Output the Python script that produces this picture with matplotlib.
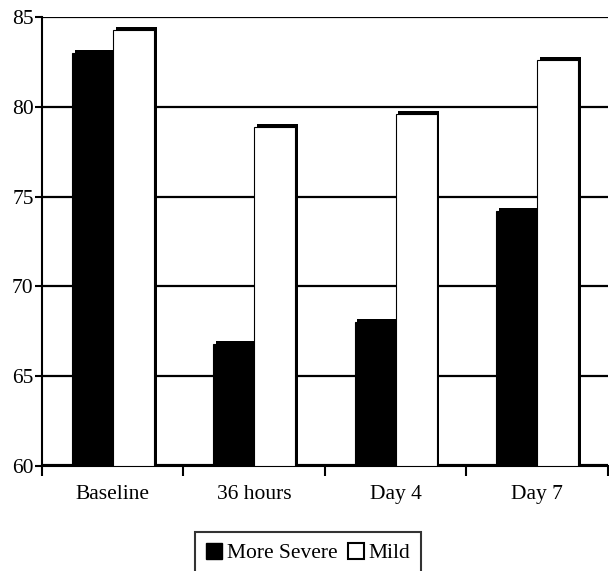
import matplotlib
matplotlib.use("Agg")
from matplotlib import pyplot as plt
from matplotlib.patches import Patch
import numpy as np

categories = ["Baseline", "36 hours", "Day 4", "Day 7"]
severe = [83.0, 66.8, 68.0, 74.2]
mild = [84.3, 78.9, 79.6, 82.6]

plt.rcParams['font.family'] = ['Liberation Serif', 'DejaVu Serif']
plt.rcParams['font.size'] = 15.5

fig = plt.figure(figsize=(6.09, 5.71), dpi=100)
ax = fig.add_axes([0.069, 0.184, 0.929, 0.786])

x = np.arange(len(categories))
w = 0.29
base = 60

# grid lines
for g in [65, 70, 75, 80, 85]:
    ax.axhline(g, color='black', lw=1.6, zorder=1)
ax.axhline(60, color='black', lw=3, zorder=1)

# shadow for the 3D look, then the bars
dx = 0.02
dy = 0.16
ax.bar(x - w / 2 + dx, np.array(severe) - base + dy, w, bottom=base,
       color='black', zorder=2)
ax.bar(x + w / 2 + dx, np.array(mild) - base + dy, w, bottom=base,
       color='black', zorder=2)
ax.bar(x - w / 2, np.array(severe) - base, w, bottom=base,
       color='black', edgecolor='black', lw=0.8, zorder=3)
ax.bar(x + w / 2, np.array(mild) - base, w, bottom=base,
       color='white', edgecolor='black', lw=0.8, zorder=3)

ax.set_xlim(-0.5, len(categories) - 0.5)
ax.set_ylim(60, 85)
ax.set_yticks([60, 65, 70, 75, 80, 85])
ax.set_xticks(x)
ax.set_xticklabels(categories)
ax.set_xticks(np.arange(-0.5, len(categories)), minor=True)
ax.tick_params(axis='x', which='major', length=0, pad=14)
ax.tick_params(axis='x', which='minor', length=7, width=1.5, direction='out')
ax.tick_params(axis='y', length=5, width=1.5, direction='out', pad=1)

for s in ['top', 'right']:
    ax.spines[s].set_visible(False)
ax.spines['left'].set_linewidth(1.5)
ax.spines['bottom'].set_linewidth(1.5)

handles = [Patch(facecolor='black', edgecolor='black', label='More Severe'),
           Patch(facecolor='white', edgecolor='black', lw=1.5, label='Mild')]
leg = fig.legend(handles=handles, loc='upper center', bbox_to_anchor=(0.506, 0.068),
                 ncol=2, frameon=True, fancybox=False, handlelength=0.75,
                 handleheight=0.75, handletextpad=0.2, columnspacing=0.5,
                 borderpad=0.5, borderaxespad=0)
leg.get_frame().set_edgecolor('black')
leg.get_frame().set_linewidth(1.5)

fig.savefig("out.png", dpi=100)
